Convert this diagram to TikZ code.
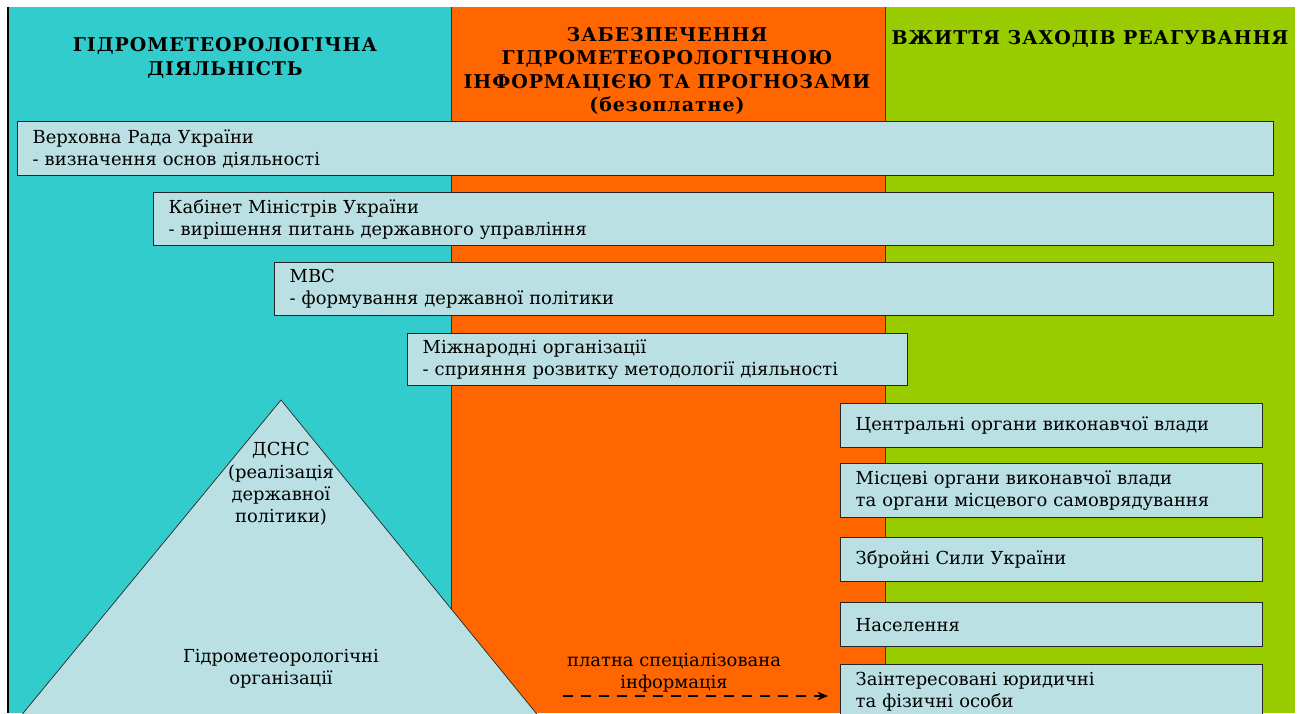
\documentclass[tikz,border=0pt]{standalone}
\usepackage{fontspec}
\setmainfont{DejaVu Serif}
\newfontfamily\headfont[LetterSpace=5]{DejaVu Serif}
\usetikzlibrary{arrows.meta}

\definecolor{panelcyan}{RGB}{51,204,204}
\definecolor{panelorange}{RGB}{255,102,0}
\definecolor{panelgreen}{RGB}{153,204,0}
\definecolor{unitblue}{RGB}{186,224,227}

\tikzstyle{unit}=[draw=black!85,fill=unitblue,line width=0.8pt,anchor=north west,inner xsep=0.3cm,inner ysep=0pt,align=left,font=\fontsize{10.2}{12.5}\selectfont]
\tikzstyle{head}=[align=center,font=\headfont\bfseries\fontsize{10.8}{13.4}\selectfont]
\tikzstyle{note}=[align=center,font=\fontsize{10.2}{12.7}\selectfont]
\tikzstyle{paid}=[dashed,dash pattern=on 5.7pt off 4.5pt,line width=1.1pt,-{Stealth[length=6pt,width=5pt]}]

\begin{document}
\begin{tikzpicture}[x=0.02cm,y=-0.02cm]

   \useasboundingbox (0,0) rectangle (1300,713);
   \clip (0,0) rectangle (1300,713);

   % Panels
   \fill[panelcyan] (7,7) rectangle (451,713);
   \fill[panelorange] (451,7) rectangle (885,713);
   \fill[panelgreen] (885,7) rectangle (1295,713);
   \draw[black!80] (451,7) -- (451,713);
   \draw[black!80] (885,7) -- (885,713);
   \draw[black,line width=1.2pt] (8,7) -- (8,713);

   \node[head] (hactivity) at (225,58) {ГІДРОМЕТЕОРОЛОГІЧНА\\ДІЯЛЬНІСТЬ};
   \node[head] (hsupply) at (667,71) {ЗАБЕЗПЕЧЕННЯ\\ГІДРОМЕТЕОРОЛОГІЧНОЮ\\ІНФОРМАЦІЄЮ ТА ПРОГНОЗАМИ\\(безоплатне)};
   \node[head] (hresponse) at (1090,39) {ВЖИТТЯ ЗАХОДІВ РЕАГУВАННЯ};

   % Pyramid
   \fill[unitblue] (281,400) -- (1,740) -- (558,740) -- cycle;
   \draw[black!85] (1,740) -- (281,400) -- (558,740);
   \node[note] (dsns) at (281,484) {ДСНС\\(реалізація\\державної\\політики)};
   \node[note] (hydro) at (281,669) {Гідрометеорологічні\\організації};

   % State bodies
   \node[unit,minimum width=25.12cm,text width=24.52cm,minimum height=1.08cm] (vr) at (17,121) {Верховна Рада України\\- визначення основ діяльності};
   \node[unit,minimum width=22.4cm,text width=21.8cm,minimum height=1.06cm] (kmu) at (153,192) {Кабінет Міністрів України\\- вирішення питань державного управління};
   \node[unit,minimum width=19.98cm,text width=19.38cm,minimum height=1.06cm] (mvs) at (274,262) {МВС\\- формування державної політики};
   \node[unit,minimum width=10cm,text width=9.4cm,minimum height=1.04cm] (mo) at (407,333) {Міжнародні організації\\- сприяння розвитку методології діяльності};

   % Consumers
   \node[unit,minimum width=8.44cm,text width=7.84cm,minimum height=0.88cm] (cov) at (840,403) {Центральні органи виконавчої влади};
   \node[unit,minimum width=8.44cm,text width=7.84cm,minimum height=1.08cm] (mov) at (840,463) {Місцеві органи виконавчої влади\\та органи місцевого самоврядування};
   \node[unit,minimum width=8.44cm,text width=7.84cm,minimum height=0.88cm] (zsu) at (840,537) {Збройні Сили України};
   \node[unit,minimum width=8.44cm,text width=7.84cm,minimum height=0.88cm] (nas) at (840,602) {Населення};
   \node[unit,minimum width=8.44cm,text width=7.84cm,minimum height=1.08cm] (zin) at (840,664) {Заінтересовані юридичні\\та фізичні особи};

   % Paid information
   \node[note] (paidtext) at (674,673) {платна спеціалізована\\інформація};
   \coordinate (paidstart) at (563,696);
   \draw[paid,shorten >=0.24cm] (paidstart) -- (paidstart -| zin.west);

\end{tikzpicture}
\end{document}
